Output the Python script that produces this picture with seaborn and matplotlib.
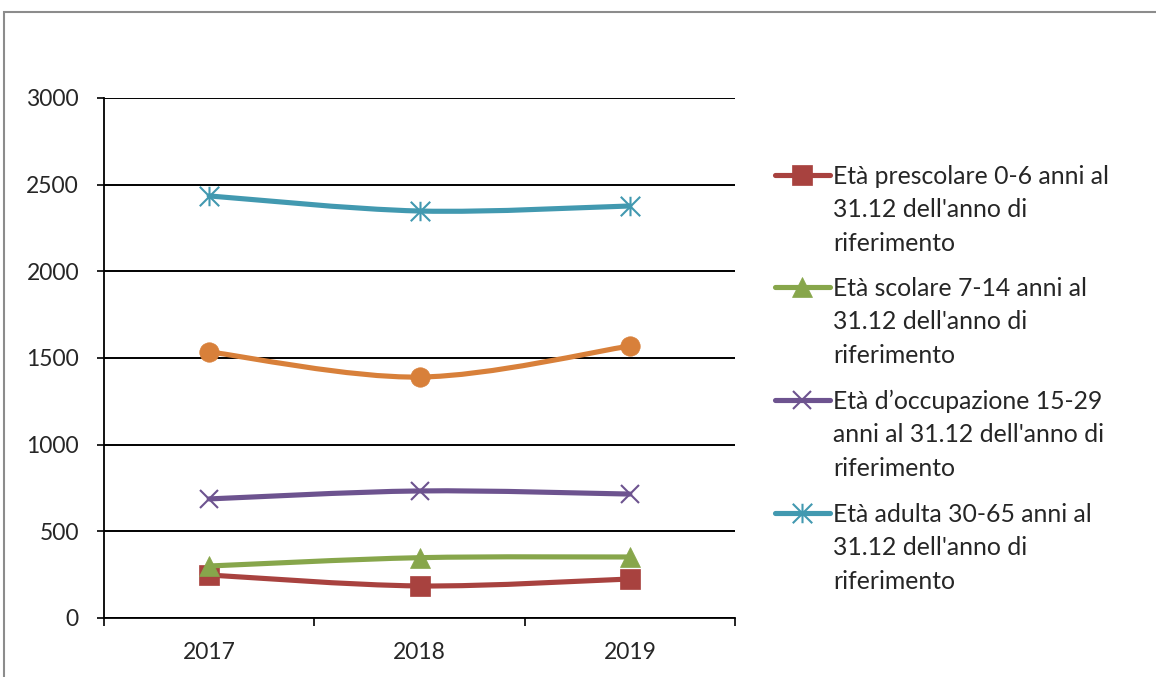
import numpy as np
import matplotlib.pyplot as plt
import pandas as pd
import seaborn as sns
from matplotlib.path import Path
from matplotlib.patches import PathPatch, Rectangle
from matplotlib.lines import Line2D

anni = ['2017', '2018', '2019']
prescolare = [248, 185, 225]
scolare = [300, 348, 352]
serie_arancio = [1535, 1390, 1569]
occupazione = [687, 733, 715]
adulta = [2435, 2348, 2377]

etichette = [
    "Età prescolare 0-6 anni al\n31.12 dell'anno di\nriferimento",
    "Età scolare 7-14 anni al\n31.12 dell'anno di\nriferimento",
    "Età d\u2019occupazione 15-29\nanni al 31.12 dell'anno di\nriferimento",
    "Età adulta 30-65 anni al\n31.12 dell'anno di\nriferimento",
]

# marker "stella" stile Excel: x + linea verticale
stella = Path([(0, -1), (0, 1), (-1, -1), (1, 1), (-1, 1), (1, -1)],
              [Path.MOVETO, Path.LINETO, Path.MOVETO, Path.LINETO, Path.MOVETO, Path.LINETO])

serie = [
    (prescolare, '#A8423F', 's', 14, etichette[0]),
    (scolare, '#87A64B', '^', 14.5, etichette[1]),
    (serie_arancio, '#D8803A', 'o', 14, None),
    (occupazione, '#6D538F', 'x', 13, etichette[2]),
    (adulta, '#4299B0', stella, 14, etichette[3]),
]

sns.set_style('white')
plt.rcParams['font.family'] = ['Lato', 'DejaVu Sans']

fig = plt.figure(figsize=(11.56, 6.77), dpi=100)
ax = fig.add_axes([104 / 1156, 1 - 618 / 677, (735 - 104) / 1156, (618 - 98) / 677])


def curva_liscia(ys):
    # curva di Bezier tipo "linea smussata" di Excel
    pts = np.column_stack([np.arange(len(ys)), ys]).astype(float)
    ext = np.vstack([pts[0], pts, pts[-1]])
    verts = [pts[0]]
    codes = [Path.MOVETO]
    for i in range(len(pts) - 1):
        p0, p1, p2, p3 = ext[i], ext[i + 1], ext[i + 2], ext[i + 3]
        verts += [p1 + (p2 - p0) / 6, p2 - (p3 - p1) / 6, p2]
        codes += [Path.CURVE4] * 3
    return Path(verts, codes)


def spessore(mk):
    return 1.5 if (mk == 'x' or mk is stella) else 0.5


for i, (vals, col, mk, ms, lab) in enumerate(serie):
    ax.add_patch(PathPatch(curva_liscia(vals), fill=False, edgecolor=col, lw=3.7, zorder=3 + i * 0.1,
                           capstyle='round', joinstyle='round'))
    df = pd.DataFrame({'anno': anni, 'valore': vals})
    sns.lineplot(data=df, x='anno', y='valore', ax=ax, marker=mk, markersize=ms, linestyle='',
                 color=col, markeredgecolor=col, markeredgewidth=spessore(mk),
                 zorder=3.05 + i * 0.1, legend=False)

ax.set_xlim(-0.5, 2.5)
ax.set_ylim(0, 3000)
ax.set_yticks(range(0, 3001, 500))
ax.set_xticks([-0.5, 0.5, 1.5, 2.5])
ax.set_xticklabels([])
ax.set_xticks([0, 1, 2], minor=True)
ax.set_xticklabels(anni, minor=True)
ax.set_xlabel('')
ax.set_ylabel('')
ax.tick_params(axis='x', which='major', direction='out', length=6, width=1.2, color='black', bottom=True)
ax.tick_params(axis='x', which='minor', length=0, pad=17, labelsize=16.5)
ax.tick_params(axis='y', direction='out', length=5, width=1.2, color='black', left=True, pad=13, labelsize=16.5)
ax.yaxis.grid(True, color='black', lw=1.4)
ax.set_axisbelow(True)
for s in ['top', 'right']:
    ax.spines[s].set_visible(False)
for s in ['left', 'bottom']:
    ax.spines[s].set_color('black')
    ax.spines[s].set_linewidth(1.3)

# legenda disegnata a mano (testo su tre righe, simbolo sulla prima riga)
W, H = 1156, 677
righe_y = [175, 287, 400, 513]
leg = [s for s in serie if s[4] is not None]
for (vals, col, mk, ms, lab), yy in zip(leg, righe_y):
    yf = 1 - yy / H
    fig.add_artist(Line2D([775 / W, 830 / W], [yf, yf], transform=fig.transFigure, color=col, lw=3.7,
                          solid_capstyle='round'))
    fig.add_artist(Line2D([802 / W], [yf], transform=fig.transFigure, marker=mk, markersize=ms,
                          color=col, markeredgecolor=col, markeredgewidth=spessore(mk), linestyle=''))
    fig.text(833 / W, 1 - (yy - 10.5) / H, lab, fontsize=17.8, va='top', ha='left', linespacing=1.56)

# cornice grigia dell'area del grafico
fig.add_artist(Rectangle((4 / W, -0.1), 1.2, 0.1 + 1 - 12 / H, transform=fig.transFigure,
                         fill=False, edgecolor='#8c8c8c', lw=1.5))

fig.savefig('out.png', dpi=100)
